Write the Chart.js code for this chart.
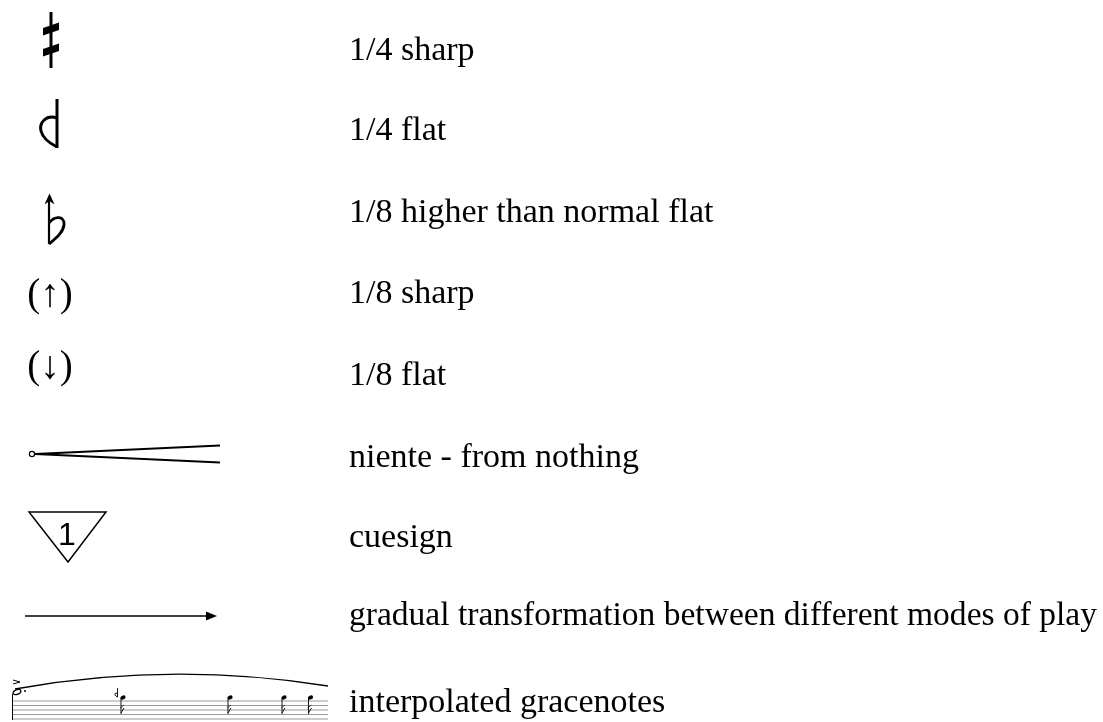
<!DOCTYPE html>
<html>
<head>
<meta charset="utf-8">
<title>legend of symbols</title>
<script src="https://cdn.jsdelivr.net/npm/chart.js@4/dist/chart.umd.min.js"></script>
<style>
    body { margin: 0; background: #ffffff; }
    #wrap { width: 1103px; height: 722px; }
</style>
</head>
<body>
<div id="wrap"><canvas id="legendChart"></canvas></div>
<script>

// one row per symbol: what it is, what it means, where its baseline sits
var symbols = ["quarterSharp", "quarterFlat", "eighthHigherFlat", "eighthSharp", "eighthFlat", "niente", "cuesign", "transition", "gracenotes"];
var descriptions = [
    "1/4 sharp",
    "1/4 flat",
    "1/8 higher than normal flat",
    "1/8 sharp",
    "1/8 flat",
    "niente - from nothing",
    "cuesign",
    "gradual transformation between different modes of play",
    "interpolated gracenotes"
];
var rowBaseline = [60, 140, 222, 303, 385, 467, 547, 625, 712];

// columns on the x scale
var symbolColumn = 0;
var textColumn = 349;
var textRight = 1097;

function poly(ctx, pts) {
    ctx.beginPath();
    ctx.moveTo(pts[0][0], pts[0][1]);
    for (let i = 1; i < pts.length; i++) ctx.lineTo(pts[i][0], pts[i][1]);
    ctx.closePath();
    ctx.fill();
}

function line(ctx, x1, y1, x2, y2, w) {
    ctx.lineWidth = w;
    ctx.beginPath();
    ctx.moveTo(x1, y1);
    ctx.lineTo(x2, y2);
    ctx.stroke();
}

function drawGlyph(ctx, kind, x, y) {
    ctx.save();
    ctx.strokeStyle = "#000";
    ctx.fillStyle = "#000";
    ctx.lineCap = "butt";

    if (kind == "quarterSharp") {
        line(ctx, x + 51, y - 48, x + 51, y + 8, 3);
        for (let cy of [y - 31, y - 10]) {
            poly(ctx, [[x + 43, cy - 1], [x + 59, cy - 6.5], [x + 59, cy + 1], [x + 43, cy + 6.5]]);
        }
    }

    if (kind == "quarterFlat") {
        line(ctx, x + 57, y - 41, x + 57, y + 8, 3);
        ctx.lineWidth = 3;
        ctx.lineJoin = "round";
        ctx.beginPath();
        ctx.moveTo(x + 57, y - 22);
        ctx.bezierCurveTo(x + 46, y - 26, x + 39, y - 17, x + 41, y - 9);
        ctx.bezierCurveTo(x + 43, y - 1, x + 51, y + 4, x + 57, y + 7);
        ctx.stroke();
    }

    if (kind == "eighthHigherFlat") {
        line(ctx, x + 49, y - 24, x + 49, y + 22, 2.2);
        poly(ctx, [[x + 49.5, y - 28.5], [x + 54.5, y - 17.5], [x + 49.5, y - 21], [x + 44.5, y - 17.5]]);
        ctx.lineWidth = 2.8;
        ctx.beginPath();
        ctx.moveTo(x + 49, y + 1);
        ctx.bezierCurveTo(x + 55, y - 7, x + 65, y - 6, x + 64, y + 3);
        ctx.bezierCurveTo(x + 63, y + 11, x + 55, y + 17, x + 49, y + 22);
        ctx.stroke();
    }

    if (kind == "eighthSharp" || kind == "eighthFlat") {
        ctx.font = '39px "Liberation Serif"';
        ctx.textAlign = "center";
        ctx.textBaseline = "alphabetic";
        if (kind == "eighthSharp") ctx.fillText("(\u2191)", x + 50, y + 3);
        else ctx.fillText("(\u2193)", x + 50, y - 7);
    }

    if (kind == "niente") {
        line(ctx, x + 35, y - 13, x + 220, y - 21.5, 2);
        line(ctx, x + 35, y - 13, x + 220, y - 4.5, 2);
        ctx.lineWidth = 1.2;
        ctx.fillStyle = "#fff";
        ctx.beginPath();
        ctx.arc(x + 32, y - 13, 2.6, 0, Math.PI * 2);
        ctx.fill();
        ctx.stroke();
    }

    if (kind == "cuesign") {
        ctx.lineWidth = 1.5;
        ctx.beginPath();
        ctx.moveTo(x + 29, y - 35);
        ctx.lineTo(x + 106, y - 35);
        ctx.lineTo(x + 68, y + 15);
        ctx.closePath();
        ctx.stroke();
        ctx.font = '32px "Liberation Sans"';
        ctx.textAlign = "center";
        ctx.textBaseline = "alphabetic";
        ctx.fillText("1", x + 67, y - 2);
    }

    if (kind == "transition") {
        line(ctx, x + 25, y - 9, x + 208, y - 9, 1.5);
        poly(ctx, [[x + 206, y - 13.5], [x + 217, y - 9], [x + 206, y - 4.5]]);
    }

    if (kind == "gracenotes") {
        // staff
        ctx.strokeStyle = "#9a9a9a";
        for (let k = 0; k < 5; k++) {
            line(ctx, x + 12, y - 11 + k * 4.5, x + 328, y - 11 + k * 4.5, 1);
        }
        ctx.strokeStyle = "#000";
        line(ctx, x + 12.5, y - 18, x + 12.5, y + 8, 1);

        // main note, dot and accent
        ctx.lineWidth = 1.3;
        ctx.beginPath();
        ctx.ellipse(x + 17, y - 20, 4, 2.4, -0.4, 0, Math.PI * 2);
        ctx.stroke();
        ctx.beginPath();
        ctx.arc(x + 25, y - 21, 1, 0, Math.PI * 2);
        ctx.fill();
        ctx.lineWidth = 1;
        ctx.beginPath();
        ctx.moveTo(x + 13, y - 32);
        ctx.lineTo(x + 20, y - 30);
        ctx.lineTo(x + 13, y - 28);
        ctx.stroke();

        // slur
        ctx.lineWidth = 1.3;
        ctx.beginPath();
        ctx.moveTo(x + 15, y - 23);
        ctx.quadraticCurveTo(x + 170, y - 51, x + 328, y - 26);
        ctx.stroke();

        // small quarter flat before first gracenote
        line(ctx, x + 117.5, y - 24, x + 117.5, y - 15, 0.9);
        ctx.beginPath();
        ctx.moveTo(x + 117.5, y - 19);
        ctx.quadraticCurveTo(x + 114, y - 19, x + 115, y - 17);
        ctx.quadraticCurveTo(x + 116, y - 15.5, x + 117.5, y - 15);
        ctx.stroke();

        // gracenotes
        for (let dx of [123, 230, 284, 310.5]) {
            ctx.beginPath();
            ctx.ellipse(x + dx, y - 14.5, 2.7, 2, -0.4, 0, Math.PI * 2);
            ctx.fill();
            line(ctx, x + dx - 2, y - 14, x + dx - 2, y + 2, 0.9);
            line(ctx, x + dx - 2, y + 1, x + dx + 1, y - 4, 0.9);
            line(ctx, x + dx - 3, y - 4, x + dx + 1, y - 7, 0.7);
        }
    }
    ctx.restore();
}

var glyphPlugin = {
    id: "glyphs",
    afterDatasetsDraw: function (chart) {
        var ctx = chart.ctx;
        var xs = chart.scales.x;
        var meta = chart.getDatasetMeta(0);
        var tx = xs.getPixelForValue(textColumn);
        var maxW = xs.getPixelForValue(textRight) - tx;

        for (let i in meta.data) {
            let pt = meta.data[i];
            drawGlyph(ctx, symbols[i], pt.x, pt.y);

            ctx.save();
            ctx.fillStyle = "#000";
            ctx.font = '34px "Liberation Serif"';
            ctx.textAlign = "left";
            ctx.textBaseline = "alphabetic";
            ctx.fillText(descriptions[i], tx, pt.y, maxW);
            ctx.restore();
        }
    }
};

var rows = [];
for (let i in symbols) {
    rows.push({ x: symbolColumn, y: rowBaseline[i] });
}

var ctx = document.getElementById("legendChart").getContext("2d");
var legendChart = new Chart(ctx, {
    type: "scatter",
    data: {
        labels: descriptions,
        datasets: [{
            label: "symbols",
            data: rows,
            pointRadius: 0,
            pointHoverRadius: 0
        }]
    },
    options: {
        responsive: true,
        maintainAspectRatio: false,
        animation: false,
        layout: { padding: 0 },
        scales: {
            x: { type: "linear", min: 0, max: 1103, display: false },
            y: { type: "linear", min: 0, max: 722, reverse: true, display: false }
        },
        plugins: {
            legend: { display: false },
            tooltip: { enabled: false }
        }
    },
    plugins: [glyphPlugin]
});

</script>
</body>
</html>
